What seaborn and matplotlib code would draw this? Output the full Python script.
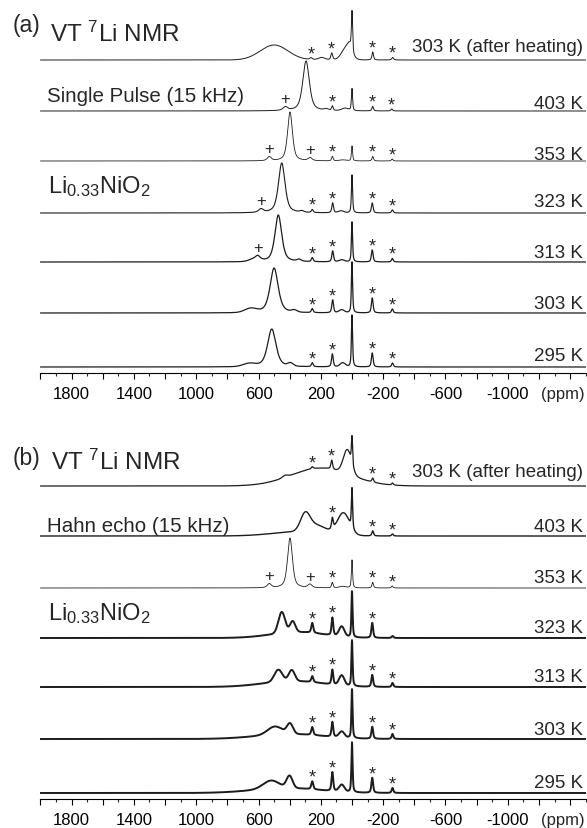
import numpy as np
import matplotlib
matplotlib.use("Agg")
import matplotlib.pyplot as plt
import seaborn as sns

# chemical shift grid (ppm)
ppm = np.arange(2000, -1501, -1.0)

# peaks: (centre ppm, height, fwhm ppm, shape)
# shape 'L' = mostly lorentzian line, 'G' = broad gaussian component
a_after = [(500, 15, 210, 'G'), (263, 2, 20, 'L'), (195, 2.5, 50, 'G'), (130, 7, 14, 'L'),
           (35, 13, 70, 'G'), (15, 6, 30, 'G'), (0, 40, 9, 'L'), (-133, 8, 12, 'L'),
           (-261, 2.5, 14, 'L')]
a_403 = [(295, 50, 50, 'L'), (428, 3.5, 35, 'L'), (166, 1.5, 30, 'L'), (126, 4.5, 12, 'L'),
         (45, 2.5, 50, 'G'), (0, 22, 9, 'L'), (-133, 4.5, 12, 'L'), (-255, 2, 12, 'L')]
a_353 = [(398, 49, 37, 'L'), (531, 4, 30, 'L'), (269, 3, 30, 'L'), (126, 4.5, 12, 'L'),
         (60, 1, 50, 'G'), (0, 15, 9, 'L'), (-133, 4.5, 12, 'L'), (-258, 2, 12, 'L')]
a_323 = [(451, 50, 50, 'L'), (584, 3.5, 35, 'L'), (322, 1.5, 30, 'L'), (255, 3, 14, 'L'),
         (124, 10, 13, 'L'), (70, 2, 40, 'G'), (0, 38, 9, 'L'), (-130, 10, 13, 'L'),
         (-259, 3, 13, 'L')]
a_313 = [(473, 47, 52, 'L'), (620, 3, 80, 'G'), (605, 3, 30, 'L'), (340, 2, 30, 'L'),
         (255, 4, 14, 'L'), (124, 11, 13, 'L'), (66, 2, 40, 'G'), (0, 40, 9, 'L'),
         (-130, 12, 13, 'L'), (-259, 3.5, 13, 'L')]
a_303 = [(500, 45, 62, 'L'), (650, 4, 90, 'G'), (370, 2, 40, 'G'), (255, 4, 14, 'L'),
         (124, 13, 13, 'L'), (66, 3, 40, 'G'), (0, 51, 9, 'L'), (-130, 15, 13, 'L'),
         (-259, 4, 13, 'L')]
a_295 = [(515, 38, 64, 'L'), (660, 3, 90, 'G'), (395, 3, 40, 'G'), (255, 4, 14, 'L'),
         (126, 13, 13, 'L'), (60, 4, 40, 'G'), (0, 52, 9, 'L'), (-130, 14, 13, 'L'),
         (-260, 4, 13, 'L')]

b_after = [(200, 18, 450, 'G'), (430, 2, 40, 'G'), (30, 24, 60, 'G'), (255, 2, 15, 'L'),
           (130, 9, 13, 'L'), (0, 28, 9, 'L'), (-133, 4, 13, 'L'), (-260, 2, 13, 'L')]
b_403 = [(300, 16, 70, 'G'), (230, 8, 150, 'G'), (350, 4, 400, 'G'), (55, 22, 90, 'G'),
         (126, 11, 13, 'L'), (0, 40, 9, 'L'), (-133, 5, 13, 'L'), (-260, 2, 13, 'L')]
b_353 = [(398, 50, 37, 'L'), (531, 4, 30, 'L'), (270, 3.5, 30, 'L'), (126, 5.5, 12, 'L'),
         (60, 1.5, 50, 'G'), (0, 28, 9, 'L'), (-133, 5.5, 12, 'L'), (-258, 2, 12, 'L')]
b_323 = [(350, 6, 400, 'G'), (451, 21, 50, 'G'), (381, 11, 40, 'G'), (255, 10, 15, 'L'),
         (126, 18, 13, 'L'), (66, 10, 40, 'G'), (0, 46, 9, 'L'), (-130, 15, 13, 'L'),
         (-260, 2, 13, 'L')]
b_313 = [(380, 6, 450, 'G'), (473, 12, 60, 'G'), (387, 11, 45, 'G'), (255, 6, 15, 'L'),
         (126, 15, 13, 'L'), (66, 10, 40, 'G'), (0, 46, 9, 'L'), (-130, 12, 13, 'L'),
         (-260, 4, 13, 'L')]
b_303 = [(400, 5, 500, 'G'), (495, 8, 110, 'G'), (398, 10, 45, 'G'), (255, 8, 15, 'L'),
         (126, 15, 13, 'L'), (66, 6, 40, 'G'), (0, 49, 9, 'L'), (-130, 12, 13, 'L'),
         (-260, 5, 13, 'L')]
b_295 = [(420, 5, 500, 'G'), (520, 8, 120, 'G'), (401, 12, 45, 'G'), (255, 8, 15, 'L'),
         (126, 19, 13, 'L'), (66, 7, 40, 'G'), (0, 50, 9, 'L'), (-130, 15, 13, 'L'),
         (-260, 5, 13, 'L')]

temps = ['303 K (after heating)', '403 K', '353 K', '323 K', '313 K', '303 K', '295 K']

# spinning sidebands of the 0 ppm line (*) and of the main line (+)
a_stars = [[263, 130, -133, -261], [126, -133, -255], [126, -133, -258],
           [255, 124, -130, -259], [255, 124, -130, -259], [255, 124, -130, -259],
           [255, 126, -130, -260]]
a_plus = [[], [428], [531, 269], [584], [605], [], []]
b_stars = [[255, 130, -133, -260], [126, -133, -260], [126, -133, -258],
           [255, 126, -130], [255, 126, -130, -260], [255, 126, -130, -260],
           [255, 126, -130, -260]]
b_plus = [[], [], [531, 270], [], [], [], []]

a_spectra = [a_after, a_403, a_353, a_323, a_313, a_303, a_295]
b_spectra = [b_after, b_403, b_353, b_323, b_313, b_303, b_295]

# ---- layout (image pixels) ----
W, H = 587, 829
X0, X1 = 40.4, 585.7
a_base_px = [61, 112, 162, 214, 263, 314, 368]
b_base_px = [487, 537, 589, 639, 688, 740, 794]
a_lab_px = [45, 102.5, 153.3, 200, 251, 302, 354]
b_lab_px = [470, 525, 576.7, 626, 675, 728, 781]
a_lw = [0.7, 0.7, 0.6, 0.8, 0.9, 0.9, 0.9]
b_lw = [0.9, 1.0, 0.6, 1.4, 1.4, 1.4, 1.4]

sns.set_style("ticks")
plt.rcParams['font.family'] = ['Liberation Sans', 'DejaVu Sans']
plt.rcParams['mathtext.fontset'] = 'custom'
plt.rcParams['mathtext.rm'] = 'Liberation Sans'
plt.rcParams['mathtext.it'] = 'Liberation Sans:italic'

LN2 = 4 * np.log(2)


def spectrum(peaks):
    y = np.zeros_like(ppm)
    for c, h, w, kind in peaks:
        g = np.exp(-LN2 * ((ppm - c) / w) ** 2)
        if kind == 'G':
            y += h * g
        else:
            y += h * (0.6 / (1 + 4 * ((ppm - c) / w) ** 2) + 0.4 * g)
    return y


fig = plt.figure(figsize=(W / 100, H / 100), dpi=100)


def fy(y):
    return 1 - y / H


def panel(top_px, axis_px, spectra, base_px, lab_px, lws, stars, plus):
    ax = fig.add_axes([X0 / W, fy(axis_px), (X1 - X0) / W, (axis_px - top_px) / H])
    ax.set_xlim(2000, -1500)
    ax.set_ylim(0, axis_px - top_px)
    for peaks, b, lp, lw, st, pl, lab in zip(spectra, base_px, lab_px, lws, stars, plus, temps):
        off = axis_px - b
        y = spectrum(peaks)
        sns.lineplot(x=ppm, y=y + off, ax=ax, color='#1c1c1c', lw=lw,
                     estimator=None, sort=False)
        for s in st:
            top = y[np.abs(ppm - s) <= 10].max() + off
            ax.text(s, top - 0.5, '*', ha='center', va='baseline', fontsize=13)
        for s in pl:
            top = y[np.abs(ppm - s) <= 12].max() + off
            ax.text(s, top + 3, '+', ha='center', va='baseline', fontsize=12)
        size = 13.5
        ax.text(-1483, axis_px - (lp + 0.358 * size * 100 / 72), lab,
                ha='right', va='baseline', fontsize=size)
    sns.despine(ax=ax, left=True)
    ax.set_yticks([])
    ax.set_ylabel('')
    ax.set_xlabel('')
    major = np.arange(2000, -1501, -200)
    ax.set_xticks(major)
    ax.set_xticklabels([str(v) if (1800 - v) % 400 == 0 and v >= -1000 else '' for v in major])
    ax.set_xticks(np.arange(2000, -1501, -100), minor=True)
    ax.tick_params(axis='x', which='major', direction='out', length=4.3, width=0.8,
                   labelsize=12, pad=4.8, colors='black')
    ax.tick_params(axis='x', which='minor', direction='out', length=2.4, width=0.8)
    ax.spines['bottom'].set_linewidth(0.8)
    ax.spines['bottom'].set_color('black')
    fig.text(563 / W, fy(axis_px + 25), '(ppm)', ha='center', va='baseline', fontsize=12)
    return ax


panel(0, 374, a_spectra, a_base_px, a_lab_px, a_lw, a_stars, a_plus)
panel(400, 800, b_spectra, b_base_px, b_lab_px, b_lw, b_stars, b_plus)

# panel titles
fig.text(13 / W, fy(32), '(a)', fontsize=16.5, va='baseline')
fig.text(50 / W, fy(42), 'VT $^{7}$Li NMR', fontsize=17.5, va='baseline')
fig.text(47 / W, fy(101.7), 'Single Pulse (15 kHz)', fontsize=14.8, va='baseline')
fig.text(48 / W, fy(193.3), 'Li$_{0.33}$NiO$_2$', fontsize=17, va='baseline')
fig.text(13 / W, fy(465), '(b)', fontsize=16.5, va='baseline')
fig.text(51 / W, fy(470), 'VT $^{7}$Li NMR', fontsize=17.5, va='baseline')
fig.text(47 / W, fy(531.7), 'Hahn echo (15 kHz)', fontsize=14.8, va='baseline')
fig.text(48 / W, fy(620), 'Li$_{0.33}$NiO$_2$', fontsize=17, va='baseline')

fig.savefig('out.png', dpi=100)
